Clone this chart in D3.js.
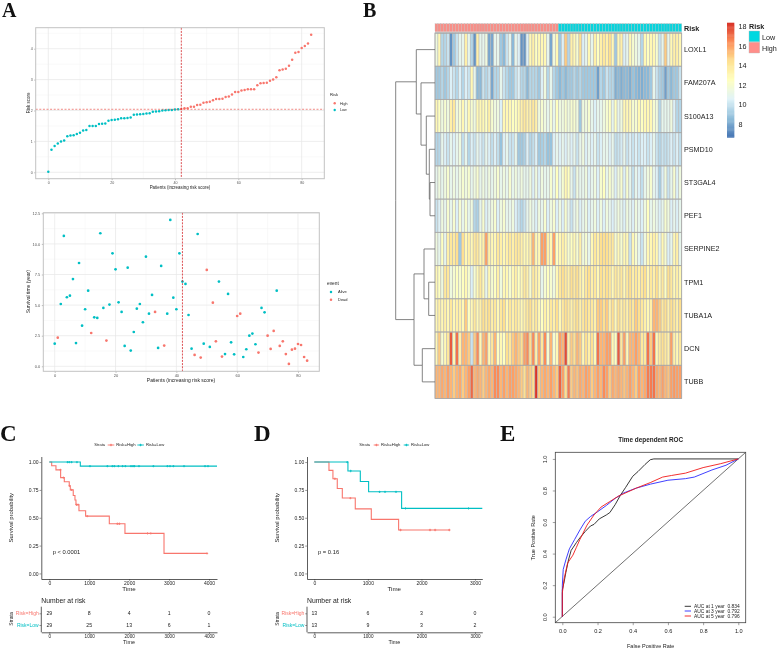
<!DOCTYPE html>
<html>
<head>
<meta charset="utf-8">
<script src="https://cdn.jsdelivr.net/npm/d3@7"></script>
<style>
  body { margin: 0; background: #fff; }
  svg { display: block; filter: blur(0.35px); }
  text { font-family: "Liberation Sans", Arial, sans-serif; fill: #222; }
  .letter { font-family: "Liberation Serif", "Times New Roman", serif; font-weight: bold; fill: #111; }
</style>
</head>
<body>
<svg id="chart" width="777" height="649"></svg>
<script>
// panel A, top: risk score per patient, sorted
var riskScores = [0.02,0.73,0.85,0.93,1.0,1.03,1.17,1.19,1.2,1.24,1.28,1.35,1.37,1.5,1.5,1.5,1.56,1.57,1.58,1.67,1.69,1.7,1.72,1.75,1.75,1.76,1.77,1.86,
  1.87,1.88,1.89,1.9,1.91,1.96,1.97,1.98,2.0,2.01,2.02,2.02,2.03,2.04,2.05,2.07,2.07,2.12,2.12,2.18,2.19,2.25,2.27,2.28,2.33,2.37,2.37,2.38,
  2.44,2.45,2.52,2.6,2.6,2.65,2.66,2.69,2.69,2.69,2.82,2.88,2.89,2.9,2.96,3.0,3.08,3.3,3.33,3.35,3.45,3.64,3.87,3.89,4.02,4.09,4.17,4.45];
var riskCutoff = 2.04;
var cutoffIndex = 42;

// panel A, bottom: survival time in years and status (1 = dead)
var survivalYears = [1.85,2.34,5.09,10.65,5.64,5.77,7.13,1.9,8.44,3.32,4.66,6.18,2.72,4.0,3.95,10.87,4.77,2.1,5.04,9.23,7.92,5.23,4.44,1.66,8.06,1.28,2.8,4.71,
  5.09,3.6,8.96,4.3,5.83,4.44,1.5,8.2,1.69,4.3,11.96,5.61,4.66,9.23,6.92,6.73,4.19,1.44,0.93,10.81,0.71,1.85,7.87,1.58,5.2,2.04,6.92,0.79,
  1.0,5.91,1.96,0.98,4.11,4.3,0.76,1.39,2.5,2.67,1.8,1.12,4.77,4.41,2.5,1.42,2.89,6.18,1.66,2.04,1.0,0.19,1.36,1.44,1.82,1.74,0.76,0.46];
var deadFlags = [0,1,0,0,0,0,0,0,0,0,0,0,1,0,0,0,0,1,0,0,0,0,0,0,0,0,0,0,
  0,0,0,0,0,1,0,0,1,0,0,0,0,0,0,0,0,0,1,0,1,0,1,0,1,1,0,1,
  0,0,0,0,1,1,0,0,0,0,0,1,0,0,1,1,1,0,1,1,1,1,1,1,1,1,1,1];

// panel B: expression by gene, 84 samples each
var genes = ["LOXL1","FAM207A","S100A13","PSMD10","ST3GAL4","PEF1","SERPINE2","TPM1","TUBA1A","DCN","TUBB"];
var LOXL1 = [11.5,13,9.5,9.5,10,7.5,9,10,11,11,13.5,11,9.5,7.5,13.5,11,11,11.5,8,8,11,11,9,8.5,10,11,8.5,11,
  10.5,7.5,7.5,10.5,13,13.5,12.5,13,13,13,11,8,11.5,13,9,10.5,15,9.5,13.5,13,12,14.5,10.5,11,13,11,13.5,12.5,
  13.5,14,13.5,14.5,13,9,13,13.5,10.5,11,13,12,11.5,11,9.5,13,12.5,13,13,12,10,11,15,11,13,13.5,13.5,13];
var FAM207A = [9,9,9.5,9,9.5,10.5,10,9.5,10.5,9.5,10.5,10,13,11,8.5,8.5,10,9.5,10,8,9.5,9.5,11,10,9.5,9,9,10,
  10.5,9.5,9.5,8.5,9.5,9.5,9.5,9,10.5,11.5,9.5,11,9.5,9,8.5,9,8.5,9,9,9.5,9,9.5,9,9,9,9,9,7.8,
  9.5,9,10,9.5,9.5,8.2,8.5,8.2,8.5,8.5,8.2,8.8,8.5,8.3,8.2,8.5,8.5,9,11,10,9.3,9,7.8,9,8.5,9,9,10];
var S100A13 = [13,12.5,11.5,12,11.5,13.5,14,11.5,12,13,11.5,13,12,11.5,13,13,13,12.5,13.5,12,11.5,11.5,10.5,13,13,13,12.5,12.5,
  13,13.5,14,13.5,13.5,14,13.5,11.5,12,11.5,11,12,11,12.5,11.5,11.5,12,11.5,12,12,11.5,9,11.5,11.5,12,11,10.5,11,
  11,11.5,12,12.5,11,12.5,11,11.5,13,13,13,12,12,13,12.5,13,13,13,12,11.5,9.5,11,11,11,11.5,10.5,9.5,9.5];
var PSMD10 = [9.5,9.5,11,10.5,10,11,10.5,11,11.5,9.8,11,9.5,10.5,10,11,10.5,10,11,10.5,9.8,10.5,9.8,8.8,10.5,11,10,10,11,
  9,9,9.3,10.5,9.5,9.8,10.5,9,9.2,9.5,8.8,8.8,10.5,11,10.5,11,10.5,11,10.5,11,10,11,11.5,10.5,11,10.5,11,10,
  10.5,11,11,10.5,11,9.8,10,10.3,11,10,10.5,10,10.5,10,10.5,10.5,10,10.5,11,10,9.5,10,9.8,10,10.5,10,10.5,9.8];
var ST3GAL4 = [11,11.5,11,11.5,12,11,11.5,11,11.5,12,11.5,12,11,11.5,12,11,11.5,11,11.5,11,11.5,12,11,11.5,11,12,11,11.5,
  11,11.5,11,11,11.5,10.5,11.5,10.5,11.5,11,11,12,11,12.5,11,12,13,12.5,11,10,11.5,11,11,11.5,10.5,11,11.5,10.5,
  12,12.5,11,12,11.5,10.5,11.5,12,10.5,12,11,9.8,11,10.5,9.8,11,11.5,12,11,10.5,9.2,10.5,11.5,10,11,12,10.5,11.5];
var PEF1 = [10,10.5,11.5,11,12,11,12,10.5,12,11,12,11,11.5,9.5,9.3,11,12,10.5,11,11.5,12,10.5,11.5,12,11,11,11.5,10.5,
  10,9.5,10,11,11.5,11,10.5,11.5,11,12,10.5,11.5,12,10.5,11.5,10.5,12,11,10,11,11.5,10.5,11,11.5,10.5,11,11.5,10.5,
  11.5,10.5,11.5,11,10.5,11,11.5,11,10.5,11.5,11,10.5,11.5,11,10.5,11.5,12.5,11,11.5,11,10.5,11,12,11.5,10.5,11,10.5,11];
var SERPINE2 = [11.5,11,12.5,11,13.5,14,13.8,14.5,9,14.5,13,13.5,13,14,14,13,13.5,16,13.5,13,13,14,13.5,13,13.5,14,13.5,14,
  14,13.5,13,13,13.5,15.5,13,13,16,16,13.5,13,16,12.5,13,13.5,13,12,12.5,13,12,13.5,11.5,12,11,13,14,13.5,
  14.5,14.5,14.5,14,14,12,13,12,13,13,10,13,12,11,10,11.5,13,13,13.5,13,11,13,12,10.5,11,13,13.5,11];
var TPM1 = [13,12.5,11.5,14,14,11.5,12,12.5,12,12.5,13,12,10.5,12,13,14,13,11,13,12,12.5,13.5,11.5,13,13,12,13,13.5,
  12.5,13,14,13.5,12,14,13.5,13,11,12,12.5,12,11.5,13,14,14.5,14,13.5,14.5,14,14.5,13.5,13,14,14.5,13.5,14,13,
  14.5,14,14.5,14,13,14,13.5,14,13,14,14.5,13.5,14,13.5,14,14.5,13,14,13.5,14.5,13,14,12.5,14.5,14,13,13.5,13];
var TUBA1A = [13,13.5,13,13.5,13,14,13,13.5,13.5,13,15,12.5,13,14,13,13.5,14.5,14,14.5,13.5,14,13,14,14.5,13,14,13.5,14,
  13.5,13,13.5,14,14.5,13.5,14,13,12.5,13.5,13,14,13.5,14.5,13,14,14.5,14,13.5,14,14.5,13.5,14,14.5,14,14,13.5,15,
  15,14.5,15,13.5,14.5,13,14.5,13.5,14,13.5,14.5,14,15,14.5,14,13.5,13,13.5,15.5,15.5,15,14,14.5,13.5,14.5,14,13.5,14.5];
var DCN = [13,15,12,13,14,17.5,13,17,13.5,15.5,15.5,15,10,15,16.5,13,15.5,16,13,14,15.5,12.5,13,12.5,14.5,14,15,15.5,
  15,14.5,16,16.5,14.5,16.5,13.5,16,14,16.5,12,15.5,12,13,16,15.5,17.8,13.5,15,14.5,15.5,15,13,14.5,13.5,14.5,13,17,
  15.5,15.5,16,16,13,12.5,17.5,14,16,13,15.5,15.5,16,15.5,14,14,17,15,17,13,14,14.5,14,13.5,16,13.5,13,14];
var TUBB = [15.5,15.5,15.8,15.5,16,15.5,15,15.5,15.8,15,15.5,16,17.2,15.5,15.8,15.5,15,15.5,15.8,15.5,16.5,16.5,15.5,16,15.5,16,16,15.8,
  15.5,15,14.5,15.5,15,14.5,18.3,15,15.5,15.8,15.5,16,15.5,15,17.3,16,14.5,16.8,15,15.5,15.2,15.8,15.5,16,15.8,15,15.5,16,
  15.5,16.5,16,15,15.8,15.5,15.8,15.5,15.2,15.5,16,15.5,15,16,15.5,15.8,16.8,16.8,17,15.8,15.5,16,15.5,15.2,16,16.2,16,16];
var expression = [LOXL1,FAM207A,S100A13,PSMD10,ST3GAL4,PEF1,SERPINE2,TPM1,TUBA1A,DCN,TUBB];
var heatLegendTicks = [8,10,12,14,16,18];

// gene dendrogram, h = merge height
var geneTree = {h:39.3, children:[
  {h:18.7, children:[
    {name:"LOXL1", h:0},
    {h:14, children:[
      {name:"FAM207A", h:0},
      {h:8.7, children:[
        {name:"S100A13", h:0},
        {h:5.7, children:[
          {name:"PSMD10", h:0},
          {h:5, children:[{name:"ST3GAL4", h:0},{name:"PEF1", h:0}]}
        ]}
      ]}
    ]}
  ]},
  {h:21, children:[
    {h:11, children:[
      {name:"SERPINE2", h:0},
      {h:6.3, children:[{name:"TPM1", h:0},{name:"TUBA1A", h:0}]}
    ]},
    {h:12.7, children:[{name:"DCN", h:0},{name:"TUBB", h:0}]}
  ]}
]};

// panel C: Kaplan-Meier
var cHighTimes = [0,60,167,284,376,500,526,600,643,668,743,910,1503,1895,2873,3958];
var cHighSurv = [1,0.967,0.93,0.86,0.823,0.787,0.75,0.70,0.66,0.617,0.563,0.515,0.446,0.36,0.18,0.18];
var cHighCensor = [280,351,505,560,680,720,950,1703,1754,2459,2543,3950];
var cLowTimes = [0,777,4200];
var cLowSurv = [1,0.964,0.964];
var cLowCensor = [459,501,560,693,1019,1453,1578,1628,1729,1837,1904,2046,2096,2129,2246,2605,2956,3023,3106,3374,3900,3975];
var cTicks = [0,1000,2000,3000,4000];
var cAtRiskHigh = [29,8,4,1,0];
var cAtRiskLow = [29,25,13,6,1];

// panel D: Kaplan-Meier
var dHighTimes = [0,274,348,429,523,765,1064,1574,2526];
var dHighSurv = [1,0.925,0.85,0.763,0.677,0.58,0.485,0.39,0.39];
var dHighCensor = [385,672,1610,2160,2255,2520];
var dLowTimes = [0,628,859,1014,1630,3136];
var dLowSurv = [1,0.92,0.826,0.733,0.584,0.584];
var dLowCensor = [615,680,1220,1320,1525,1705,2880];
var dTicks = [0,1000,2000,3000];
var dAtRiskHigh = [13,6,3,0];
var dAtRiskLow = [13,9,3,2];

// panel E: ROC curves
var roc1Fpr = [0,0,0.01,0.02,0.035,0.05,0.08,0.1,0.13,0.16,0.18,0.21,0.25,0.27,0.3,0.33,0.36,0.4,0.43,0.47,0.5,0.52,1];
var roc1Tpr = [0,0.17,0.22,0.28,0.36,0.42,0.47,0.5,0.54,0.575,0.585,0.62,0.645,0.66,0.71,0.77,0.82,0.89,0.92,0.965,0.995,1,1];
var roc3Fpr = [0,0,0.005,0.02,0.04,0.07,0.1,0.13,0.16,0.2,0.25,0.3,0.35,0.42,0.5,0.6,0.7,0.75,0.85,0.93,1];
var roc3Tpr = [0,0.2,0.3,0.36,0.43,0.49,0.55,0.605,0.635,0.665,0.705,0.75,0.785,0.815,0.84,0.865,0.875,0.885,0.93,0.96,1];
var roc5Fpr = [0,0,0.01,0.03,0.06,0.08,0.1,0.14,0.18,0.22,0.27,0.32,0.36,0.42,0.5,0.57,0.62,0.7,0.8,0.9,1];
var roc5Tpr = [0,0.15,0.24,0.34,0.39,0.44,0.49,0.58,0.645,0.695,0.73,0.765,0.785,0.815,0.85,0.885,0.895,0.91,0.945,0.97,1];
var rocLabels = ["AUC at 1 year  0.834","AUC at 3 year  0.792","AUC at 5 year  0.796"];
var rocTicks = [0,0.2,0.4,0.6,0.8,1];

var HIGH = "#F8766D", LOW = "#00BFC4";
var svg = d3.select("#chart");

function addText(g, x, y, str, size, opts) {
  opts = opts || {};
  var t = g.append("text").attr("x", x).attr("y", y).attr("dy", "0.35em")
    .attr("font-size", size).text(str)
    .attr("text-anchor", opts.anchor || "start")
    .attr("xml:space", "preserve").style("white-space", "pre");
  if (opts.bold) t.attr("font-weight", "bold");
  if (opts.fill) t.style("fill", opts.fill);
  if (opts.rotate) t.attr("transform", "rotate(-90," + x + "," + y + ")");
  return t;
}

function letter(str, x, y, size) {
  svg.append("text").attr("class", "letter").attr("x", x).attr("y", y)
    .attr("font-size", size).text(str);
}
letter("A", 2, 17, 20);
letter("B", 363, 17, 20);
letter("C", 0, 441, 23);
letter("D", 254, 441, 23);
letter("E", 500, 441, 23);

// ---- scatter panels (theme_bw look)
function bwPanel(box, xDomain, yDomain, xTicks, yTicks, yMinor, tickFont) {
  var g = svg.append("g");
  var x = d3.scaleLinear().domain(xDomain).range([box.left, box.right]);
  var y = d3.scaleLinear().domain(yDomain).range([box.bottom, box.top]);
  var xMinor = xTicks.slice(1).map(function(d, i) { return (d + xTicks[i]) / 2; });
  g.selectAll("line.minx").data(xMinor).enter().append("line")
    .attr("x1", x).attr("x2", x).attr("y1", box.top).attr("y2", box.bottom)
    .attr("stroke", "#f2f2f2").attr("stroke-width", 0.5);
  g.selectAll("line.miny").data(yMinor).enter().append("line")
    .attr("y1", y).attr("y2", y).attr("x1", box.left).attr("x2", box.right)
    .attr("stroke", "#f2f2f2").attr("stroke-width", 0.5);
  g.selectAll("line.majx").data(xTicks).enter().append("line")
    .attr("x1", x).attr("x2", x).attr("y1", box.top).attr("y2", box.bottom)
    .attr("stroke", "#e6e6e6").attr("stroke-width", 0.7);
  g.selectAll("line.majy").data(yTicks).enter().append("line")
    .attr("y1", y).attr("y2", y).attr("x1", box.left).attr("x2", box.right)
    .attr("stroke", "#e6e6e6").attr("stroke-width", 0.7);

  var xAxis = g.append("g").attr("transform", "translate(0," + box.bottom + ")")
    .call(d3.axisBottom(x).tickValues(xTicks).tickSize(1.5).tickPadding(1.5));
  var yAxis = g.append("g").attr("transform", "translate(" + box.left + ",0)")
    .call(d3.axisLeft(y).tickValues(yTicks).tickSize(1.5).tickPadding(1.5)
      .tickFormat(yTicks[1] == 2.5 ? d3.format(".1f") : d3.format("d")));
  [xAxis, yAxis].forEach(function(a) {
    a.select(".domain").remove();
    a.selectAll("line").attr("stroke", "#555").attr("stroke-width", 0.4);
    a.selectAll("text").attr("font-size", tickFont).style("fill", "#555")
      .attr("font-family", "Liberation Sans");
  });
  return {g: g, x: x, y: y};
}

function bwBorder(g, box) {
  g.append("rect").attr("x", box.left).attr("y", box.top)
    .attr("width", box.right - box.left).attr("height", box.bottom - box.top)
    .attr("fill", "none").attr("stroke", "#c2c2c2").attr("stroke-width", 1);
}

var boxA = {left: 35.7, right: 324.3, top: 27.7, bottom: 178.7};
var a1 = bwPanel(boxA, [-3.98, 87.15], [-0.207, 4.68], [0,20,40,60,80], [0,1,2,3,4], [0.5,1.5,2.5,3.5,4.5], 3.6);
a1.g.selectAll("circle").data(riskScores).enter().append("circle")
  .attr("cx", function(d, i) { return a1.x(i); })
  .attr("cy", function(d) { return a1.y(d); })
  .attr("r", 1.25)
  .attr("fill", function(d, i) { return i <= cutoffIndex - 1 ? LOW : HIGH; });
a1.g.append("line").attr("x1", boxA.left).attr("x2", boxA.right)
  .attr("y1", a1.y(riskCutoff)).attr("y2", a1.y(riskCutoff))
  .attr("stroke", "#e8504a").attr("stroke-width", 0.9).attr("stroke-dasharray", "2,1.6").attr("opacity", 0.75);
a1.g.append("line").attr("x1", a1.x(cutoffIndex)).attr("x2", a1.x(cutoffIndex))
  .attr("y1", boxA.top).attr("y2", boxA.bottom)
  .attr("stroke", "#d4262a").attr("stroke-width", 0.8).attr("stroke-dasharray", "2,1.2");
bwBorder(a1.g, boxA);
addText(svg, 180, 187.3, "Patients (increasing risk score)", 4.45, {anchor: "middle"});
addText(svg, 28.3, 103, "Risk score", 4.45, {anchor: "middle", rotate: true});
addText(svg, 330, 95, "Risk", 4.2);
svg.append("circle").attr("cx", 334.7).attr("cy", 103.3).attr("r", 1.2).attr("fill", HIGH);
svg.append("circle").attr("cx", 334.7).attr("cy", 110).attr("r", 1.2).attr("fill", LOW);
addText(svg, 340, 103.3, "High", 3.6);
addText(svg, 340, 110, "Low", 3.6);

var boxS = {left: 43.3, right: 319.3, top: 212.7, bottom: 371.3};
var a2 = bwPanel(boxS, [-3.75, 87], [-0.41, 12.55], [0,20,40,60,80], [0,2.5,5,7.5,10,12.5], [1.25,3.75,6.25,8.75,11.25], 4);
a2.g.selectAll("circle").data(survivalYears).enter().append("circle")
  .attr("cx", function(d, i) { return a2.x(i); })
  .attr("cy", function(d) { return a2.y(d); })
  .attr("r", 1.35)
  .attr("fill", function(d, i) { return deadFlags[i] ? HIGH : LOW; });
a2.g.append("line").attr("x1", a2.x(cutoffIndex)).attr("x2", a2.x(cutoffIndex))
  .attr("y1", boxS.top).attr("y2", boxS.bottom)
  .attr("stroke", "#d4262a").attr("stroke-width", 0.8).attr("stroke-dasharray", "2,1.2");
bwBorder(a2.g, boxS);
addText(svg, 181, 380.3, "Patients (increasing risk score)", 5, {anchor: "middle"});
addText(svg, 28.3, 291.7, "Survival time (year)", 5, {anchor: "middle", rotate: true});
addText(svg, 327, 283, "event", 4.8);
svg.append("circle").attr("cx", 331).attr("cy", 292).attr("r", 1.25).attr("fill", LOW);
svg.append("circle").attr("cx", 331).attr("cy", 299.7).attr("r", 1.25).attr("fill", HIGH);
addText(svg, 338, 292, "Alive", 4);
addText(svg, 338, 299.7, "Dead", 4);

// ---- heatmap
var heatX = d3.scaleBand().domain(d3.range(84)).range([435, 681.7]);
var heatY = d3.scaleBand().domain(genes).range([33, 398.5]);
var heatColor = d3.scaleLinear()
  .domain([6.7, 8.65, 10.6, 12.55, 14.5, 16.45, 18.4])
  .range(["#4575B4","#91BFDB","#E0F3F8","#FFFFBF","#FEE090","#FC8D59","#D73027"]);

var heat = svg.append("g");
genes.forEach(function(gene, r) {
  heat.append("g").selectAll("rect").data(expression[r]).enter().append("rect")
    .attr("x", function(d, i) { return heatX(i); })
    .attr("y", heatY(gene))
    .attr("width", heatX.bandwidth())
    .attr("height", heatY.bandwidth())
    .attr("fill", function(d) { return heatColor(d); })
    .attr("stroke", "#b8b8b8").attr("stroke-width", 0.55);
});
heat.selectAll("line.row").data(genes).enter().append("line")
  .attr("x1", 435).attr("x2", 681.7)
  .attr("y1", function(d) { return heatY(d); }).attr("y2", function(d) { return heatY(d); })
  .attr("stroke", "#a4a4a4").attr("stroke-width", 0.8);
heat.append("rect").attr("x", 435).attr("y", 33).attr("width", 246.7).attr("height", 365.5)
  .attr("fill", "none").attr("stroke", "#a4a4a4").attr("stroke-width", 0.8);

// annotation strip
svg.append("g").selectAll("rect").data(d3.range(84)).enter().append("rect")
  .attr("x", function(d) { return heatX(d); })
  .attr("y", 23.7).attr("width", heatX.bandwidth()).attr("height", 8)
  .attr("fill", function(d) { return d < 42 ? "#F78F88" : "#08D3DC"; })
  .attr("stroke", "#b8b8b8").attr("stroke-width", 0.3);

heatY.domain().forEach(function(gene) {
  addText(svg, 684, heatY(gene) + heatY.bandwidth() / 2, gene, 7.2);
});
addText(svg, 684, 28, "Risk", 7.2, {bold: true});

// dendrogram
var root = d3.hierarchy(geneTree);
var dendroX = d3.scaleLinear().domain([0, 39.3]).range([435, 395.7]);
root.eachAfter(function(n) {
  n.py = n.children ? d3.mean(n.children, function(c) { return c.py; })
    : heatY(n.data.name) + heatY.bandwidth() / 2;
});
svg.append("g").selectAll("path").data(root.links()).enter().append("path")
  .attr("d", function(l) {
    return "M" + dendroX(l.source.data.h) + "," + l.source.py +
      "V" + l.target.py + "H" + dendroX(l.target.data.h);
  })
  .attr("fill", "none").attr("stroke", "#666").attr("stroke-width", 0.8);

// colour legend
var legY = d3.scaleLinear().domain([6.7, 18.4]).range([137.3, 22.7]);
var legendSteps = d3.range(100).map(function(i) { return 6.7 + i * 11.7 / 100; });
svg.append("g").selectAll("rect").data(legendSteps).enter().append("rect")
  .attr("x", 727).attr("width", 7.3)
  .attr("y", function(d) { return legY(d + 0.117); })
  .attr("height", legY(0) - legY(0.117) + 0.4)
  .attr("fill", function(d) { return heatColor(d); });
heatLegendTicks.forEach(function(t) {
  addText(svg, 738.5, legY(t), t, 7.2);
});
addText(svg, 749, 26, "Risk", 7.2, {bold: true});
svg.append("rect").attr("x", 749).attr("y", 31).attr("width", 10.7).attr("height", 10.8).attr("fill", "#00D8E0").attr("stroke", "#bbb").attr("stroke-width", 0.4);
svg.append("rect").attr("x", 749).attr("y", 42.2).attr("width", 10.7).attr("height", 10.8).attr("fill", "#FF8E8A").attr("stroke", "#bbb").attr("stroke-width", 0.4);
addText(svg, 762, 37, "Low", 7.2);
addText(svg, 762, 48, "High", 7.2);

// ---- Kaplan-Meier panels
function kmPanel(o) {
  var g = svg.append("g");
  var x = d3.scaleLinear().domain(o.xDomain).range([o.left, o.right]);
  var y = d3.scaleLinear().domain([-0.05, 1.05]).range([579, 456.5]);
  var line = d3.line().curve(d3.curveStepAfter)
    .x(function(d) { return x(d[0]); }).y(function(d) { return y(d[1]); });

  function curve(times, surv, censor, color) {
    g.append("path").datum(d3.zip(times, surv)).attr("d", line)
      .attr("fill", "none").attr("stroke", color).attr("stroke-width", 1.1);
    g.selectAll("path.c" + color.slice(1)).data(censor).enter().append("path")
      .attr("class", "c" + color.slice(1))
      .attr("d", d3.symbol(d3.symbolCross, 3))
      .attr("fill", color)
      .attr("transform", function(t) {
        var k = d3.bisectRight(times, t) - 1;
        return "translate(" + x(t) + "," + y(surv[k]) + ")";
      });
  }
  curve(o.highTimes, o.highSurv, o.highCensor, HIGH);
  curve(o.lowTimes, o.lowSurv, o.lowCensor, LOW);

  function styleAxis(a, size) {
    a.selectAll(".domain").attr("stroke", "#333").attr("stroke-width", 0.8);
    a.selectAll("line").attr("stroke", "#333").attr("stroke-width", 0.5);
    a.selectAll("text").attr("font-size", size).attr("font-family", "Liberation Sans").style("fill", "#222");
  }
  var yAx = g.append("g").attr("transform", "translate(" + o.left + ",0)")
    .call(d3.axisLeft(y).tickValues([0,0.25,0.5,0.75,1]).tickFormat(d3.format(".2f")).tickSize(1.8).tickPadding(1).tickSizeOuter(0));
  styleAxis(yAx, 5);
  var xAx = g.append("g").attr("transform", "translate(0,579)")
    .call(d3.axisBottom(x).tickValues(o.ticks).tickFormat(d3.format("d")).tickSize(1.8).tickPadding(1).tickSizeOuter(0));
  styleAxis(xAx, 5);
  addText(g, o.yLabelX, 517.7, "Survival probability", 5.9, {anchor: "middle", rotate: true});
  addText(g, o.timeX, 589.3, "Time", 6.2, {anchor: "middle"});
  addText(g, o.pX, 551.7, o.pText, 5.8);

  // top legend
  addText(g, o.legend[0], 445, "Strata", 4);
  [[o.legend[1], HIGH, "Risk=High"], [o.legend[2], LOW, "Risk=Low"]].forEach(function(k) {
    g.append("line").attr("x1", k[0]).attr("x2", k[0] + o.legend[3]).attr("y1", 445).attr("y2", 445)
      .attr("stroke", k[1]).attr("stroke-width", 0.9);
    g.append("path").attr("d", d3.symbol(d3.symbolCross, 3)).attr("fill", k[1])
      .attr("transform", "translate(" + (k[0] + o.legend[3] / 2) + ",445)");
    addText(g, k[0] + o.legend[3] + 2, 445, k[2], 4.2);
  });

  // risk table
  addText(g, o.left, 600.3, "Number at risk", 6.8);
  var rowY = d3.scalePoint().domain(["Risk=High", "Risk=Low"]).range([613.3, 625]);
  var tableY = g.append("g").attr("transform", "translate(" + o.left + ",0)")
    .call(d3.axisLeft(rowY).tickSize(1.8).tickPadding(0.8).tickSizeOuter(0));
  tableY.select(".domain").attr("d", "M0,606.7V632.3").attr("stroke", "#333").attr("stroke-width", 0.8);
  tableY.selectAll("line").attr("stroke", "#333").attr("stroke-width", 0.5);
  tableY.selectAll("text").attr("font-size", 5).attr("font-family", "Liberation Sans")
    .style("fill", function(d) { return d == "Risk=High" ? HIGH : LOW; });
  var tableX = g.append("g").attr("transform", "translate(0,632.3)")
    .call(d3.axisBottom(x).tickValues(o.ticks).tickFormat(d3.format("d")).tickSize(1.8).tickPadding(0.5).tickSizeOuter(0));
  styleAxis(tableX, 4.6);
  o.ticks.forEach(function(t, i) {
    addText(g, x(t), rowY("Risk=High"), o.riskHigh[i], 5.2, {anchor: "middle"});
    addText(g, x(t), rowY("Risk=Low"), o.riskLow[i], 5.2, {anchor: "middle"});
  });
  addText(g, o.yLabelX, 619, "Strata", 5, {anchor: "middle", rotate: true});
  addText(g, o.timeX, 642.3, "Time", 5.4, {anchor: "middle"});
}

kmPanel({
  left: 41.3, right: 217, xDomain: [-200, 4200], ticks: cTicks,
  highTimes: cHighTimes, highSurv: cHighSurv, highCensor: cHighCensor,
  lowTimes: cLowTimes, lowSurv: cLowSurv, lowCensor: cLowCensor,
  riskHigh: cAtRiskHigh, riskLow: cAtRiskLow,
  yLabelX: 11.3, timeX: 129, pX: 52.7, pText: "p < 0.0001",
  legend: [94.3, 107.7, 137.3, 6.6]
});
kmPanel({
  left: 307, right: 482.3, xDomain: [-136, 3136], ticks: dTicks,
  highTimes: dHighTimes, highSurv: dHighSurv, highCensor: dHighCensor,
  lowTimes: dLowTimes, lowSurv: dLowSurv, lowCensor: dLowCensor,
  riskHigh: dAtRiskHigh, riskLow: dAtRiskLow,
  yLabelX: 277.3, timeX: 394.3, pX: 318, pText: "p = 0.16",
  legend: [359.3, 373.7, 403.7, 5.4]
});

// ---- ROC panel
var boxE = {left: 555.3, right: 745.7, top: 452.3, bottom: 622.7};
var rocX = d3.scaleLinear().domain([-0.04, 1.042]).range([boxE.left, boxE.right]);
var rocY = d3.scaleLinear().domain([-0.038, 1.042]).range([boxE.bottom, boxE.top]);
var rocLine = d3.line().x(function(d) { return rocX(d[0]); }).y(function(d) { return rocY(d[1]); });
var roc = svg.append("g");
roc.append("path").datum([[-0.04,-0.038],[1.04,1.04]]).attr("d", rocLine)
  .attr("fill", "none").attr("stroke", "#333").attr("stroke-width", 0.7);
[[roc1Fpr, roc1Tpr, "#222"], [roc3Fpr, roc3Tpr, "#2a2aff"], [roc5Fpr, roc5Tpr, "#f01818"]].forEach(function(c) {
  roc.append("path").datum(d3.zip(c[0], c[1])).attr("d", rocLine)
    .attr("fill", "none").attr("stroke", c[2]).attr("stroke-width", 0.9);
});
roc.append("rect").attr("x", boxE.left).attr("y", boxE.top)
  .attr("width", boxE.right - boxE.left).attr("height", boxE.bottom - boxE.top)
  .attr("fill", "none").attr("stroke", "#444").attr("stroke-width", 0.8);
var rocXAxis = roc.append("g").attr("transform", "translate(0," + boxE.bottom + ")")
  .call(d3.axisBottom(rocX).tickValues(rocTicks).tickFormat(d3.format(".1f")).tickSize(2.5).tickPadding(4));
var rocYAxis = roc.append("g").attr("transform", "translate(" + boxE.left + ",0)")
  .call(d3.axisLeft(rocY).tickValues(rocTicks).tickFormat(d3.format(".1f")).tickSize(2.5).tickPadding(6));
[rocXAxis, rocYAxis].forEach(function(a) {
  a.select(".domain").remove();
  a.selectAll("line").attr("stroke", "#444").attr("stroke-width", 0.5);
  a.selectAll("text").attr("font-size", 5.6).attr("font-family", "Liberation Sans").style("fill", "#222");
});
// R draws the y tick labels turned along the axis
rocYAxis.selectAll("text")
  .attr("x", 0).attr("dy", null)
  .attr("text-anchor", "middle")
  .attr("transform", "translate(-8.5,0) rotate(-90)");
addText(svg, 650.7, 439.3, "Time dependent ROC", 6.4, {anchor: "middle", bold: true});
addText(svg, 650.7, 646, "False Positive Rate", 5.5, {anchor: "middle"});
addText(svg, 532.7, 537.7, "True Positive Rate", 5.5, {anchor: "middle", rotate: true});
[["#222", 606.3], ["#2a2aff", 611], ["#f01818", 616]].forEach(function(k, i) {
  svg.append("line").attr("x1", 684.7).attr("x2", 691).attr("y1", k[1]).attr("y2", k[1])
    .attr("stroke", k[0]).attr("stroke-width", 0.9);
  addText(svg, 694, k[1], rocLabels[i], 4.9);
});
</script>
</body>
</html>
